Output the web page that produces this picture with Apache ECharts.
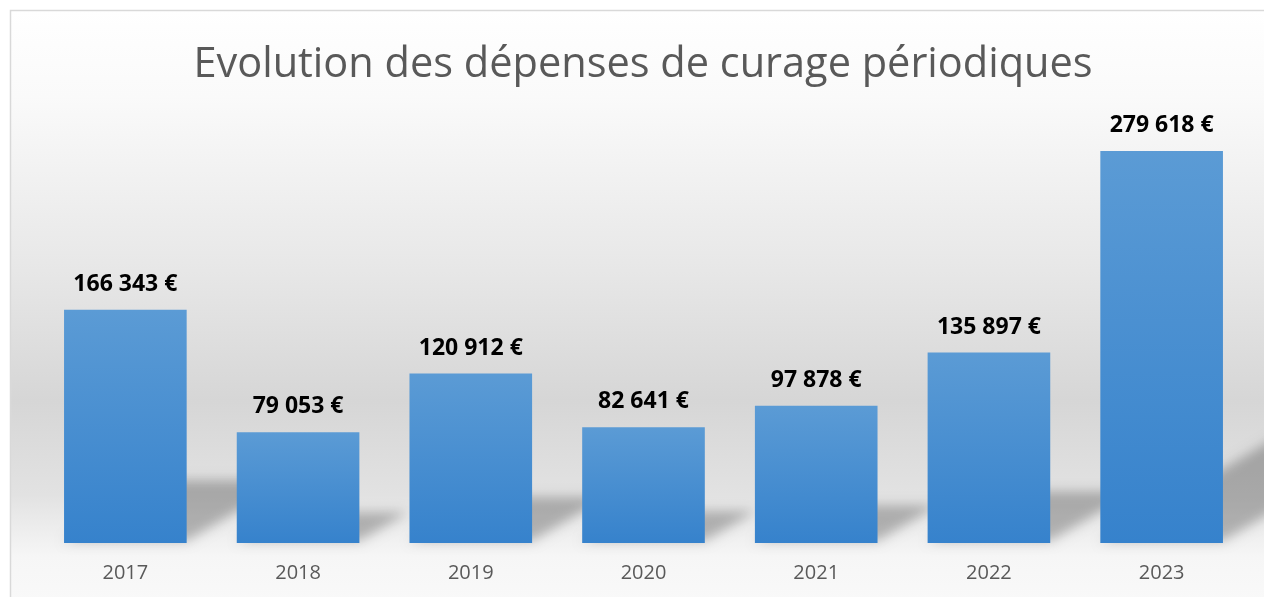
<!DOCTYPE html>
<html>
<head>
<meta charset="utf-8">
<title>Evolution des dépenses de curage périodiques</title>
<script src="https://cdn.jsdelivr.net/npm/echarts@6/dist/echarts.min.js"></script>
<style>
  html, body { margin: 0; padding: 0; background: #fff; }
  #chart { width: 1264px; height: 597px; }
</style>
</head>
<body>
<div id="chart"></div>
<script>
// données
var annees = ['2017', '2018', '2019', '2020', '2021', '2022', '2023'];
var depenses = [166343, 79053, 120912, 82641, 97878, 135897, 279618];
var titre = 'Evolution des dépenses de curage périodiques';

// format "166 343 €"
function euro(v) {
  return String(v).replace(/\B(?=(\d{3})+(?!\d))/g, ' ') + ' €';
}

var myChart = echarts.init(document.getElementById('chart'));

var option = {
  animation: false,
  title: {
    text: titre,
    left: 643,
    textAlign: 'center',
    top: 39,
    textStyle: {
      fontFamily: 'Open Sans',
      fontWeight: 'normal',
      fontSize: 41.5,
      color: '#595959'
    }
  },
  graphic: [
    {
      type: 'rect',
      z: -10,
      silent: true,
      shape: { x: 10.5, y: 10.5, width: 1300, height: 620 },
      style: {
        stroke: '#d9d9d9',
        lineWidth: 1.5,
        fill: {
          type: 'linear', x: 0, y: 0, x2: 0, y2: 1,
          colorStops: [
            { offset: 0, color: '#ffffff' },
            { offset: 0.14, color: '#fafafa' },
            { offset: 0.42, color: '#e7e7e7' },
            { offset: 0.63, color: '#d6d6d6' },
            { offset: 0.78, color: '#e2e2e2' },
            { offset: 0.88, color: '#f6f6f6' },
            { offset: 1, color: '#fbfbfb' }
          ]
        }
      }
    }
  ],
  grid: {
    left: 39,
    right: 16,
    top: 100,
    bottom: 54
  },
  xAxis: {
    type: 'category',
    data: annees,
    axisLine: { show: false },
    axisTick: { show: false },
    axisLabel: {
      margin: 20,
      fontFamily: 'Open Sans',
      fontSize: 20,
      color: '#595959'
    }
  },
  yAxis: {
    type: 'value',
    min: 0,
    max: 316000,
    show: false,
    splitLine: { show: false }
  },
  series: [
    {
      // ombre portée floue derrière les barres (seule l'ombre est visible)
      type: 'custom',
      z: 1,
      silent: true,
      clip: false,
      data: depenses,
      renderItem: function (params, api) {
        var base = api.coord([api.value(0), 0]);
        var top = api.coord([api.value(0), api.value(1)]);
        var w = api.size([1, 0])[0] * 0.71;
        var h = base[1] - top[1];
        var hs = h * 0.26;
        var dx = hs * 1.7;
        var off = 3000;
        var xl = base[0] - w / 2 - off, xr = base[0] + w / 2 - off, y0 = base[1] - 2;
        return {
          type: 'polygon',
          shape: {
            points: [[xl, y0], [xr, y0], [xr + dx, y0 - hs], [xl + dx, y0 - hs]]
          },
          style: {
            fill: '#000',
            shadowBlur: 12,
            shadowOffsetX: off,
            shadowColor: 'rgba(0,0,0,0.26)'
          }
        };
      }
    },
    {
      type: 'bar',
      z: 2,
      data: depenses,
      barWidth: '71%',
      itemStyle: {
        color: {
          type: 'linear', x: 0, y: 0, x2: 0, y2: 1,
          colorStops: [
            { offset: 0, color: '#5b9bd5' },
            { offset: 1, color: '#3682cc' }
          ]
        }
      },
      label: {
        show: true,
        position: 'top',
        distance: 14,
        formatter: function (p) { return euro(p.value); },
        fontFamily: 'Open Sans',
        fontWeight: 'bold',
        fontSize: 23,
        color: '#000'
      }
    }
  ]
};

option.title.left = 638;

myChart.setOption(option);
window.addEventListener('resize', function () {
  myChart.resize();
});
</script>
</body>
</html>
